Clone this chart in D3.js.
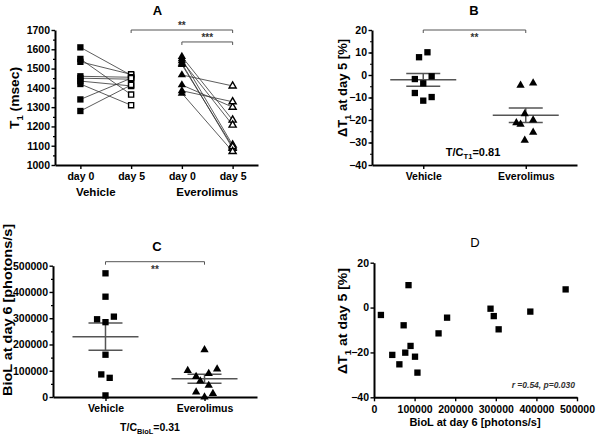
<!DOCTYPE html>
<html><head><meta charset="utf-8">
<script src="https://cdn.jsdelivr.net/npm/d3@7"></script>
<style>
body{margin:0;background:#fff}
svg{display:block;font-family:"Liberation Sans",Arial,sans-serif}
</style></head><body>
<svg id="c" width="600" height="439"></svg>
<script>
// ---------------- DATA ----------------
// Panel A: T1 (msec), paired day 0 / day 5
const aKeys = ["Vehicle|day 0", "Vehicle|day 5", "Everolimus|day 0", "Everolimus|day 5"];
const aGroups = ["Vehicle", "Everolimus"];
const aTicks = [1000, 1100, 1200, 1300, 1400, 1500, 1600, 1700];
const aVehDay0 = [1610, 1550, 1535, 1460, 1450, 1435, 1420, 1340, 1280];
const aVehDay5 = [1465, 1365, 1470, 1455, 1445, 1410, 1310, 1450, 1415];
const aEveDay0 = [1562, 1550, 1540, 1527, 1520, 1467, 1415, 1385, 1372];
const aEveDay5 = [1233, 1104, 1207, 1087, 1095, 1410, 1300, 1328, 1070];
const aBracketFrom = [1, 2];
const aBracketTo = [3, 3];
const aBracketLevel = [1700, 1638];
const aBracketLabel = ["**", "***"];

// Panel B: delta T1 at day 5 (%)
const bCats = ["Vehicle", "Everolimus"];
const bTicks = [-40, -30, -20, -10, 0, 10, 20];
const bVehicle = [7.9, 10.1, -1.8, -3.7, -0.6, -8.0, -9.8, -11.4];
const bVehicleSlot = [-1, 1, -2, 0, 2, -2, 2, 0];
const bEverolimus = [-4.6, -3.6, -17.3, -20.0, -21.3, -21.9, -25.5, -29.0];
const bEverolimusSlot = [-1, 2, 0, 2, -2, -1, 2, 0];
const bRatio = "0.81";

// Panel C: BioL at day 6 (photons/s)
const cCats = ["Vehicle", "Everolimus"];
const cTicks = [0, 100000, 200000, 300000, 400000, 500000];
const cVehicle = [471000, 382000, 306000, 296000, 285000, 161000, 86000, 73000, 6000];
const cVehicleSlot = [0, 0, 2, -2, 0, 0, -1, 1, 0];
const cEverolimus = [180000, 101000, 106000, 78000, 89000, 61000, 44000, 19000, 13000, 0];
const cEverolimusSlot = [0, -4, 3, -2, 1, -1, 1, -2, 2, 0];
const cRatio = "0.31";

// Panel D: correlation
const dXTicks = [0, 100000, 200000, 300000, 400000, 500000];
const dYTicks = [-40, -20, 0, 20];
const dBioL = [17000, 45000, 62500, 73000, 77000, 85000, 90000, 101000, 107000, 159000, 180000, 287000, 295000, 307000, 385000, 472000];
const dDeltaT1 = [-3.3, -21.1, -25.3, -7.9, -20.1, 10.0, -17.1, -21.9, -29.0, -11.5, -4.5, -0.5, -3.8, -9.7, -1.8, 8.1];
const dStats = "r =0.54, p=0.030";

// ---------------- HELPERS ----------------
const svg = d3.select("#c");
const FONT = '"Liberation Sans", Arial, sans-serif';
const SLOT = 4.2;

function styleAxis(g) {
  g.attr("font-family", FONT).attr("font-size", 10.5).attr("font-weight", "bold");
  g.select(".domain").attr("stroke", "#000").attr("stroke-width", 2);
  g.selectAll(".tick line").attr("stroke", "#000").attr("stroke-width", 1.4);
  g.selectAll(".tick text").attr("fill", "#000");
}
function minorLeft(scale, x, values) {
  const g = svg.append("g").attr("transform", `translate(${x},0)`)
    .call(d3.axisLeft(scale).tickValues(values).tickSize(2).tickFormat(""));
  g.select(".domain").remove();
  g.selectAll(".tick line").attr("stroke", "#000").attr("stroke-width", 1.2);
}
const sq = d3.symbol().type(d3.symbolSquare).size(40);
const sqOpen = d3.symbol().type(d3.symbolSquare).size(26);
const tri = d3.symbol().type(d3.symbolTriangle).size(30);
const triOpen = d3.symbol().type(d3.symbolTriangle).size(22);

function marks(data, xf, yf, sym, open) {
  svg.append("g").selectAll("path").data(data).join("path")
    .attr("transform", (d, i) => `translate(${xf(d, i)},${yf(d, i)})`)
    .attr("d", sym)
    .attr("fill", open ? "#fff" : "#000")
    .attr("stroke", "#000")
    .attr("stroke-width", open ? 1.4 : 0);
}
function bracket(x1, x2, y, label, above) {
  svg.append("path")
    .attr("d", `M${x1},${y + 3}V${y}H${x2}V${y + 3}`)
    .attr("fill", "none").attr("stroke", "#555").attr("stroke-width", 1);
  svg.append("text").attr("x", (x1 + x2) / 2).attr("y", above ? y - 1 : y + 11)
    .attr("text-anchor", "middle").attr("font-size", 10).attr("font-weight", "bold")
    .attr("fill", "#333").text(label);
}
function meanSem(vals, cx, yScale) {
  const m = d3.mean(vals);
  const sem = d3.deviation(vals) / Math.sqrt(vals.length);
  const g = svg.append("g").attr("stroke", "#555").attr("stroke-width", 1.5).attr("fill", "none");
  g.append("line").attr("x1", cx - 33).attr("x2", cx + 33).attr("y1", yScale(m)).attr("y2", yScale(m));
  g.append("line").attr("x1", cx - 17).attr("x2", cx + 17).attr("y1", yScale(m + sem)).attr("y2", yScale(m + sem));
  g.append("line").attr("x1", cx - 17).attr("x2", cx + 17).attr("y1", yScale(m - sem)).attr("y2", yScale(m - sem));
  g.append("line").attr("x1", cx).attr("x2", cx).attr("y1", yScale(m + sem)).attr("y2", yScale(m - sem));
}
function title(x, y, t, bold) {
  svg.append("text").attr("x", x).attr("y", y).attr("text-anchor", "middle")
    .attr("font-size", 13).attr("font-weight", bold ? "bold" : "normal").text(t);
}
function label(x, y, t, size) {
  return svg.append("text").attr("x", x).attr("y", y).attr("text-anchor", "middle")
    .attr("font-size", size || 10.5).attr("font-weight", "bold").text(t);
}
// rotated label with subscript parts: [[text, isSub], ...]
function richText(x, y, parts, size, rotate, len) {
  const t = svg.append("text").attr("text-anchor", "middle").attr("font-weight", "bold")
    .attr("font-size", size)
    .attr("transform", `translate(${x},${y})` + (rotate ? " rotate(-90)" : ""));
  let wasSub = false;
  parts.forEach(([s, sub]) => {
    const ts = t.append("tspan").text(s);
    if (sub) { ts.attr("font-size", size * 0.7).attr("dy", size * 0.3); wasSub = true; }
    else if (wasSub) { ts.attr("dy", -size * 0.3); wasSub = false; }
  });
  if (len) t.attr("textLength", len).attr("lengthAdjust", "spacingAndGlyphs");
  return t;
}

// ---------------- PANEL A ----------------
const xA = d3.scalePoint().domain(aKeys).range([55, 258]).padding(0.5);
const yA = d3.scaleLinear().domain([1000, 1700]).range([165, 30]);
minorLeft(yA, 55, d3.range(1050, 1700, 100));
svg.append("g").attr("transform", "translate(55,0)")
  .call(d3.axisLeft(yA).tickValues(aTicks).tickSize(3.5).tickPadding(1.5).tickSizeOuter(0).tickFormat(d3.format("d")))
  .call(styleAxis);
svg.append("g").attr("transform", "translate(0,165)")
  .call(d3.axisBottom(xA).tickSize(4).tickPadding(4).tickSizeOuter(0).tickFormat(k => k.split("|")[1]))
  .call(styleAxis);
// connecting lines
function pairLines(d0, d5, k0, k5) {
  svg.append("g").selectAll("line").data(d0).join("line")
    .attr("x1", xA(k0)).attr("y1", d => yA(d))
    .attr("x2", xA(k5)).attr("y2", (d, i) => yA(d5[i]))
    .attr("stroke", "#333").attr("stroke-width", 0.8);
}
pairLines(aVehDay0, aVehDay5, aKeys[0], aKeys[1]);
pairLines(aEveDay0, aEveDay5, aKeys[2], aKeys[3]);
marks(aVehDay0, () => xA(aKeys[0]), d => yA(d), sq, false);
marks(aVehDay5, () => xA(aKeys[1]), d => yA(d), sqOpen, true);
marks(aEveDay0, () => xA(aKeys[2]), d => yA(d), tri, false);
marks(aEveDay5, () => xA(aKeys[3]), d => yA(d), triOpen, true);
aBracketLabel.forEach((lab, i) => {
  bracket(xA(aKeys[aBracketFrom[i]]), xA(aKeys[aBracketTo[i]]), yA(aBracketLevel[i]), lab, true);
});
label((xA(aKeys[0]) + xA(aKeys[1])) / 2 - 10, 196, aGroups[0], 11.5);
label((xA(aKeys[2]) + xA(aKeys[3])) / 2, 196, aGroups[1], 11.5);
title((55 + 258) / 2 + 1, 15, "A", true);
richText(19, 98, [["T", false], ["1", true], [" (msec)", false]], 12.5, true, 62);

// ---------------- PANEL B ----------------
const xB = d3.scalePoint().domain(bCats).range([372, 577]).padding(0.5);
const yB = d3.scaleLinear().domain([-40, 20]).range([165, 30]);
minorLeft(yB, 372, d3.range(-35, 20, 5));
svg.append("g").attr("transform", "translate(372,0)")
  .call(d3.axisLeft(yB).tickValues(bTicks).tickSize(3.5).tickPadding(1.5).tickSizeOuter(0))
  .call(styleAxis);
svg.append("g").attr("transform", "translate(0,165)")
  .call(d3.axisBottom(xB).tickSize(4).tickPadding(4).tickSizeOuter(0))
  .call(styleAxis);
meanSem(bVehicle, xB(bCats[0]), yB);
meanSem(bEverolimus, xB(bCats[1]), yB);
marks(bVehicle, (d, i) => xB(bCats[0]) + bVehicleSlot[i] * SLOT, d => yB(d), sq, false);
marks(bEverolimus, (d, i) => xB(bCats[1]) + bEverolimusSlot[i] * SLOT - 1, d => yB(d), tri, false);
bracket(xB(bCats[0]), xB(bCats[1]), yB(20), "**", false);
richText(473, 156, [["T/C", false], ["T1", true], ["=" + bRatio, false]], 11);
title(474, 15, "B", true);
richText(347, 88, [["\u0394T", false], ["1", true], [" at day 5 [%]", false]], 12, true, 98);

// ---------------- PANEL C ----------------
const xC = d3.scalePoint().domain(cCats).range([53, 257]).padding(0.53);
const yC = d3.scaleLinear().domain([0, 500000]).range([397, 265.7]);
minorLeft(yC, 53, d3.range(50000, 500000, 100000));
svg.append("g").attr("transform", "translate(53,0)")
  .call(d3.axisLeft(yC).tickValues(cTicks).tickSize(3.5).tickPadding(1.5).tickSizeOuter(0).tickFormat(d3.format("d")))
  .call(styleAxis);
svg.append("g").attr("transform", "translate(0,397)")
  .call(d3.axisBottom(xC).tickSize(4).tickPadding(4).tickSizeOuter(0))
  .call(styleAxis);
meanSem(cVehicle, xC(cCats[0]), yC);
meanSem(cEverolimus, xC(cCats[1]), yC);
marks(cVehicle, (d, i) => xC(cCats[0]) + cVehicleSlot[i] * SLOT, d => yC(d), sq, false);
marks(cEverolimus, (d, i) => xC(cCats[1]) + cEverolimusSlot[i] * SLOT, d => yC(d), tri, false);
bracket(xC(cCats[0]), xC(cCats[1]), yC(500000) - 4, "**", false);
richText(150, 431, [["T/C", false], ["BioL", true], ["=" + cRatio, false]], 10.5);
title(157, 251, "C", true);
richText(12, 310, [["BioL at day 6 [photons/s]", false]], 12, true, 172);

// ---------------- PANEL D ----------------
const xD = d3.scaleLinear().domain([0, 500000]).range([374, 577]);
const yD = d3.scaleLinear().domain([-40, 20]).range([397.3, 262.7]);
svg.append("g").attr("transform", "translate(374,0)")
  .call(d3.axisLeft(yD).tickValues(dYTicks).tickSize(3.5).tickPadding(1.5).tickSizeOuter(0))
  .call(styleAxis);
svg.append("g").attr("transform", "translate(0,397.3)")
  .call(d3.axisBottom(xD).tickValues(dXTicks).tickSize(4).tickPadding(4).tickSizeOuter(0).tickFormat(d3.format("d")))
  .call(styleAxis);
marks(dBioL, d => xD(d), (d, i) => yD(dDeltaT1[i]), sq, false);
svg.append("text").attr("x", 575).attr("y", 388).attr("text-anchor", "end")
  .attr("font-size", 8.5).attr("font-style", "italic").attr("font-weight", "bold").attr("fill", "#333")
  .text(dStats);
title(475, 247, "D", false);
richText(347, 321, [["\u0394T", false], ["1", true], [" at day 5 [%]", false]], 12, true, 106);
label(475, 426, "BioL at day 6 [photons/s]", 11);
</script>
</body></html>
